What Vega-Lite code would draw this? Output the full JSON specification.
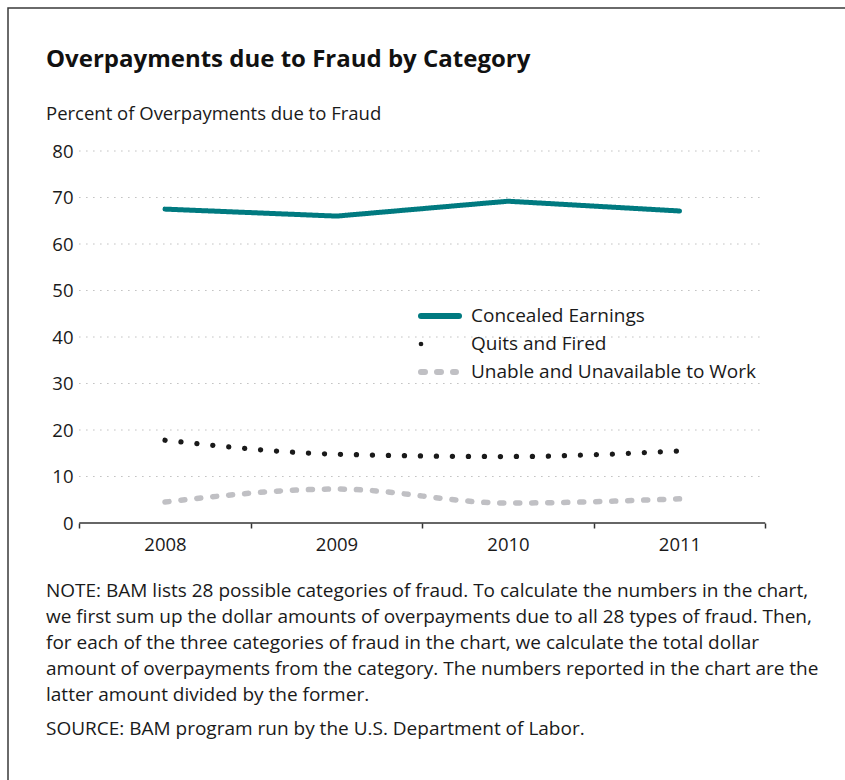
{
  "$schema": "https://vega.github.io/schema/vega-lite/v6.json",
  "width": 840,
  "height": 775,
  "padding": {"left": 8, "top": 8, "right": 0, "bottom": 0},
  "background": "white",
  "config": {
    "view": {"stroke": "#3a3a3a", "strokeWidth": 1.5},
    "font": "Open Sans",
    "text": {"font": "Open Sans", "color": "#1a1a1a"}
  },
  "datasets": {
    "series": [
      {"year": 2008, "category": "Concealed Earnings", "percent": 67.5},
      {"year": 2009, "category": "Concealed Earnings", "percent": 66.0},
      {"year": 2010, "category": "Concealed Earnings", "percent": 69.2},
      {"year": 2011, "category": "Concealed Earnings", "percent": 67.1},
      {"year": 2008, "category": "Quits and Fired", "percent": 17.8},
      {"year": 2009, "category": "Quits and Fired", "percent": 14.8},
      {"year": 2010, "category": "Quits and Fired", "percent": 14.3},
      {"year": 2011, "category": "Quits and Fired", "percent": 15.5},
      {"year": 2008, "category": "Unable and Unavailable to Work", "percent": 4.5},
      {"year": 2009, "category": "Unable and Unavailable to Work", "percent": 7.3},
      {"year": 2010, "category": "Unable and Unavailable to Work", "percent": 4.3},
      {"year": 2011, "category": "Unable and Unavailable to Work", "percent": 5.2}
    ],
    "grid": [{"g": 10}, {"g": 20}, {"g": 30}, {"g": 40}, {"g": 50}, {"g": 60}, {"g": 70}, {"g": 80}],
    "one": [{}]
  },
  "layer": [
    {
      "data": {"name": "grid"},
      "mark": {"type": "rule", "color": "#b0b0b0", "strokeWidth": 1, "strokeDash": [1.2, 5.8]},
      "encoding": {
        "x": {"datum": 2007.5, "type": "quantitative", "scale": {"domain": [2007.0845, 2011.9825], "nice": false, "zero": false}},
        "x2": {"datum": 2011.47},
        "y": {"field": "g", "type": "quantitative", "title": null, "scale": {"domain": [-55.914, 110.753], "nice": false, "zero": false}}
      }
    },
    {
      "data": {"name": "one"},
      "mark": {"type": "rule", "color": "#333333", "strokeWidth": 1.5},
      "encoding": {
        "x": {"datum": 2007.5, "type": "quantitative", "scale": {"domain": [2007.0845, 2011.9825], "nice": false, "zero": false}},
        "x2": {"datum": 2011.5},
        "y": {"datum": 0, "type": "quantitative", "scale": {"domain": [-55.914, 110.753], "nice": false, "zero": false}}
      }
    },
    {
      "data": {"name": "series"},
      "transform": [{"filter": "datum.category === 'Concealed Earnings'"}],
      "mark": {"type": "line", "strokeCap": "round", "strokeJoin": "round"},
      "encoding": {
        "x": {"field": "year", "type": "quantitative", "title": null, "scale": {"domain": [2007.0845, 2011.9825], "nice": false, "zero": false},
          "axis": {"orient": "bottom", "offset": -260, "values": [2007.5, 2008.5, 2009.5, 2010.5, 2011.5],
            "labelExpr": "datum.value < 2011 ? format(datum.value + 0.5, 'd') : ''", "labelOffset": 85.75, "title": null, "domain": false, "grid": false,
            "tickColor": "#333333", "tickWidth": 1.5, "tickSize": 5,
            "labelFont": "Open Sans", "labelFontSize": 18.5, "labelColor": "#1a1a1a", "labelPadding": 7}},
        "y": {"field": "percent", "type": "quantitative", "title": null, "scale": {"domain": [-55.914, 110.753], "nice": false, "zero": false},
          "axis": {"orient": "left", "offset": -71, "values": [0, 10, 20, 30, 40, 50, 60, 70, 80], "title": null, "domain": false, "grid": false,
            "ticks": false, "labelFont": "Open Sans", "labelFontSize": 18.5, "labelColor": "#1a1a1a", "labelPadding": 6}},
        "color": {"field": "category", "type": "nominal", "legend": null,
          "scale": {"domain": ["Concealed Earnings", "Quits and Fired", "Unable and Unavailable to Work"], "range": ["#007a80", "#1a1a1a", "#c0c0c4"]}},
        "strokeDash": {"field": "category", "type": "nominal", "legend": null,
          "scale": {"domain": ["Concealed Earnings", "Quits and Fired", "Unable and Unavailable to Work"], "range": [[1, 0], [0.1, 15.9], [4, 12]]}},
        "strokeWidth": {"field": "category", "type": "nominal", "legend": null,
          "scale": {"domain": ["Concealed Earnings", "Quits and Fired", "Unable and Unavailable to Work"], "range": [5, 5.5, 6]}}
      }
    },
    {
      "data": {"name": "series"},
      "transform": [{"filter": "datum.category !== 'Concealed Earnings'"}],
      "mark": {"type": "line", "strokeCap": "round", "interpolate": "monotone"},
      "encoding": {
        "x": {"field": "year", "type": "quantitative", "title": null, "scale": {"domain": [2007.0845, 2011.9825], "nice": false, "zero": false}},
        "y": {"field": "percent", "type": "quantitative", "title": null, "scale": {"domain": [-55.914, 110.753], "nice": false, "zero": false}},
        "color": {"field": "category", "type": "nominal", "legend": null},
        "strokeDash": {"field": "category", "type": "nominal", "legend": null},
        "strokeWidth": {"field": "category", "type": "nominal", "legend": null}
      }
    },
    {
      "data": {"name": "one"},
      "mark": {"type": "rule", "color": "#007a80", "strokeWidth": 6, "strokeCap": "round"},
      "encoding": {
        "x": {"datum": 2009.4927, "type": "quantitative"},
        "x2": {"datum": 2009.7143},
        "y": {"datum": 44.516, "type": "quantitative"}
      }
    },
    {
      "data": {"name": "one"},
      "mark": {"type": "point", "shape": "circle", "filled": true, "color": "#1a1a1a", "size": 22, "opacity": 1},
      "encoding": {
        "x": {"datum": 2009.4927, "type": "quantitative"},
        "y": {"datum": 38.495, "type": "quantitative"}
      }
    },
    {
      "data": {"name": "one"},
      "mark": {"type": "rule", "color": "#c0c0c4", "strokeWidth": 6, "strokeCap": "round", "strokeDash": [4, 12]},
      "encoding": {
        "x": {"datum": 2009.4927, "type": "quantitative"},
        "x2": {"datum": 2009.6966},
        "y": {"datum": 32.473, "type": "quantitative"}
      }
    },
    {
      "data": {"name": "one"},
      "mark": {"type": "text", "align": "left", "baseline": "middle", "font": "Open Sans", "fontSize": 19, "color": "#1a1a1a"},
      "encoding": {
        "x": {"datum": 2009.7843, "type": "quantitative"},
        "y": {"datum": 44.516, "type": "quantitative"},
        "text": {"value": "Concealed Earnings"}
      }
    },
    {
      "data": {"name": "one"},
      "mark": {"type": "text", "align": "left", "baseline": "middle", "font": "Open Sans", "fontSize": 19, "color": "#1a1a1a"},
      "encoding": {
        "x": {"datum": 2009.7843, "type": "quantitative"},
        "y": {"datum": 38.495, "type": "quantitative"},
        "text": {"value": "Quits and Fired"}
      }
    },
    {
      "data": {"name": "one"},
      "mark": {"type": "text", "align": "left", "baseline": "middle", "font": "Open Sans", "fontSize": 19, "color": "#1a1a1a"},
      "encoding": {
        "x": {"datum": 2009.7843, "type": "quantitative"},
        "y": {"datum": 32.473, "type": "quantitative"},
        "text": {"value": "Unable and Unavailable to Work"}
      }
    },
    {
      "data": {"name": "one"},
      "mark": {"type": "text", "align": "left", "baseline": "alphabetic", "font": "Open Sans", "fontWeight": "bold", "fontSize": 24, "color": "#111111"},
      "encoding": {
        "x": {"datum": 2007.3061, "type": "quantitative"},
        "y": {"datum": 98.06, "type": "quantitative"},
        "text": {"value": "Overpayments due to Fraud by Category"}
      }
    },
    {
      "data": {"name": "one"},
      "mark": {"type": "text", "align": "left", "baseline": "alphabetic", "font": "Open Sans", "fontSize": 18.5, "color": "#1a1a1a"},
      "encoding": {
        "x": {"datum": 2007.3061, "type": "quantitative"},
        "y": {"datum": 86.67, "type": "quantitative"},
        "text": {"value": "Percent of Overpayments due to Fraud"}
      }
    },
    {
      "data": {"name": "one"},
      "mark": {"type": "text", "align": "left", "baseline": "alphabetic", "font": "Open Sans", "fontSize": 19, "color": "#1a1a1a", "lineHeight": 26},
      "encoding": {
        "x": {"datum": 2007.3061, "type": "quantitative"},
        "y": {"datum": -15.91, "type": "quantitative"},
        "text": {"value": ["NOTE: BAM lists 28 possible categories of fraud. To calculate the numbers in the chart,", "we first sum up the dollar amounts of overpayments due to all 28 types of fraud. Then,", "for each of the three categories of fraud in the chart, we calculate the total dollar", "amount of overpayments from the category. The numbers reported in the chart are the", "latter amount divided by the former."]}
      }
    },
    {
      "data": {"name": "one"},
      "mark": {"type": "text", "align": "left", "baseline": "alphabetic", "font": "Open Sans", "fontSize": 19, "color": "#1a1a1a"},
      "encoding": {
        "x": {"datum": 2007.3061, "type": "quantitative"},
        "y": {"datum": -45.59, "type": "quantitative"},
        "text": {"value": "SOURCE: BAM program run by the U.S. Department of Labor."}
      }
    }
  ]
}
